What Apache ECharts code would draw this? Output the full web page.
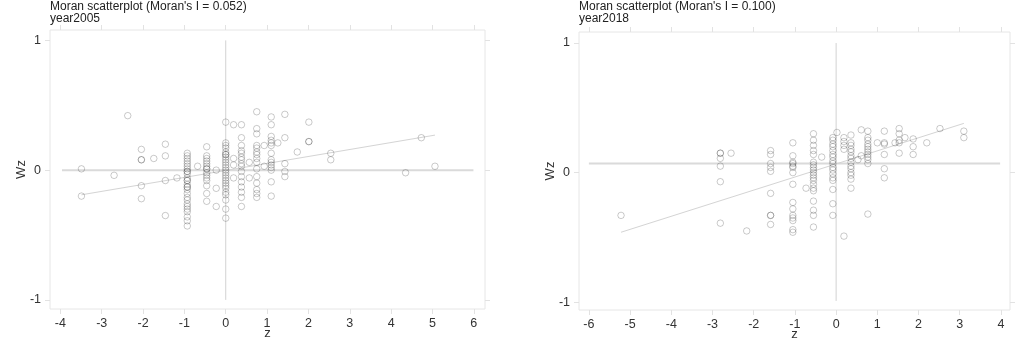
<!DOCTYPE html>
<html>
<head>
<meta charset="utf-8">
<script src="https://cdn.jsdelivr.net/npm/echarts@6/dist/echarts.min.js"></script>
<style>
  html, body { margin: 0; padding: 0; background: #fff; }
  #chart { width: 1017px; height: 338px; }
</style>
</head>
<body>
<div id="chart"></div>
<script>
// points, grouped by z column: [z, [Wz, Wz, ...]]
var pts2005 = [
  [-3.49, [0.01, -0.2]],
  [-2.7, [-0.04]],
  [-2.37, [0.42]],
  [-2.04, [0.16, 0.08, 0.08, -0.12, -0.22]],
  [-1.74, [0.09]],
  [-1.46, [0.2, 0.11, -0.08, -0.35]],
  [-1.18, [-0.06]],
  [-0.93, [0.13, 0.11, 0.09, 0.07, 0.05, 0.03, 0.01, -0.01, -0.01, -0.03, -0.06, -0.08, -0.08, -0.11, -0.13, -0.13, -0.15, -0.18, -0.21, -0.23, -0.26, -0.28, -0.3, -0.32, -0.36, -0.39, -0.43]],
  [-0.68, [0.03]],
  [-0.46, [0.18, 0.11, 0.09, 0.07, 0.05, 0.03, 0.01, 0.01, -0.02, -0.04, -0.06, -0.08, -0.12, -0.18, -0.24]],
  [-0.23, [0, -0.14, -0.28]],
  [0, [0.37, 0.21, 0.19, 0.17, 0.14, 0.12, 0.12, 0.1, 0.08, 0.06, 0.04, 0.02, 0, -0.02, -0.04, -0.06, -0.08, -0.1, -0.12, -0.14, -0.17, -0.19, -0.23, -0.3, -0.37]],
  [0.19, [0.35, 0.09, 0.04, -0.06]],
  [0.38, [0.35, 0.25, 0.19, 0.15, 0.13, 0.1, 0.08, 0.05, 0.03, -0.01, -0.05, -0.09, -0.13, -0.17, -0.21, -0.28]],
  [0.57, [0.06, -0.06]],
  [0.75, [0.45, 0.32, 0.28, 0.19, 0.17, 0.14, 0.12, 0.09, 0.06, 0.01, -0.05, -0.1, -0.15, -0.18, -0.21]],
  [0.93, [0.19, 0.03]],
  [1.1, [0.41, 0.35, 0.26, 0.23, 0.21, 0.19, 0.13, 0.08, 0.06, 0.04, 0.02, 0, -0.09, -0.2]],
  [1.26, [0.21]],
  [1.43, [0.43, 0.25, 0.05, -0.01, -0.05]],
  [1.73, [0.14]],
  [2.01, [0.37, 0.22, 0.22]],
  [2.54, [0.13, 0.08]],
  [4.35, [-0.02]],
  [4.73, [0.25]],
  [5.06, [0.03]]
];
var pts2018 = [
  [-5.22, [-0.33]],
  [-2.81, [0.15, 0.15, 0.11, 0.05, -0.07, -0.39]],
  [-2.55, [0.15]],
  [-2.17, [-0.45]],
  [-1.59, [0.17, 0.14, 0.07, 0.04, 0.01, -0.16, -0.33, -0.33, -0.4]],
  [-1.05, [0.23, 0.13, 0.08, 0.07, 0.05, 0.04, 0, -0.09, -0.23, -0.28, -0.33, -0.35, -0.37, -0.44, -0.46]],
  [-0.73, [-0.12]],
  [-0.55, [0.3, 0.25, 0.21, 0.17, 0.14, 0.08, 0.06, 0.04, 0.02, 0, -0.02, -0.04, -0.06, -0.09, -0.12, -0.14, -0.22, -0.29, -0.33, -0.42]],
  [-0.35, [0.12]],
  [-0.08, [0.27, 0.25, 0.22, 0.2, 0.17, 0.14, 0.12, 0.09, 0.07, 0.04, 0.02, -0.01, -0.04, -0.06, -0.13, -0.24, -0.33]],
  [0.02, [0.31]],
  [0.19, [0.27, 0.24, 0.21, 0.18, -0.49]],
  [0.36, [0.29, 0.23, 0.21, 0.18, 0.16, 0.13, 0.11, 0.08, 0.05, 0.03, 0, -0.02, -0.05, -0.12]],
  [0.53, [0.1]],
  [0.61, [0.33, 0.13]],
  [0.77, [0.32, 0.27, 0.25, 0.22, 0.2, 0.18, 0.16, 0.14, 0.12, 0.1, 0.07, -0.32]],
  [1.0, [0.23]],
  [1.17, [0.32, 0.23, 0.22, 0.14, 0.03, -0.04]],
  [1.43, [0.23]],
  [1.53, [0.34, 0.3, 0.25, 0.23, 0.15]],
  [1.67, [0.27]],
  [1.87, [0.26, 0.2, 0.14]],
  [2.2, [0.23]],
  [2.52, [0.34]],
  [3.1, [0.32, 0.27]]
];
// fitted lines and mean lines (end points)
var fit2005 = [[-3.49, -0.19], [5.06, 0.27]];
var fit2018 = [[-5.22, -0.46], [3.1, 0.38]];
var hline2005 = [[-3.96, 0], [5.99, 0]];
var vline2005 = [[0, 1.0], [0, -1.0]];
var hline2018 = [[-6.0, 0.07], [3.98, 0.07]];
var vline2018 = [[0, 1.0], [0, -0.99]];
var xTicks2005 = [-4, -3, -2, -1, 0, 1, 2, 3, 4, 5, 6];
var xTicks2018 = [-6, -5, -4, -3, -2, -1, 0, 1, 2, 3, 4];
var yTicks = [-1, 0, 1];
var titles = ["Moran scatterplot (Moran's I = 0.052)\nyear2005", "Moran scatterplot (Moran's I = 0.100)\nyear2018"];

function flat(groups) {
  var out = [];
  groups.forEach(function (g) {
    g[1].forEach(function (v) { out.push([g[0], v]); });
  });
  return out;
}

var font = "'Liberation Sans', Arial, sans-serif";
var tickStyle = { color: '#e2e2e2', width: 1 };
var noLine = { show: false, onZero: false };

function xAxes(gi, min, max, ticks) {
  return [{
    gridIndex: gi, type: 'value', min: min, max: max, position: 'bottom',
    name: 'z', nameLocation: 'middle', nameGap: 18, nameMoveOverlap: false,
    nameTextStyle: { color: '#333', fontSize: 13, fontFamily: font },
    axisLine: noLine,
    splitLine: { show: false },
    axisTick: { show: true, customValues: ticks, length: 5, lineStyle: tickStyle },
    axisLabel: { customValues: ticks, color: '#333', fontSize: 12.5, fontFamily: font, margin: 8 }
  }, {
    gridIndex: gi, type: 'value', min: min, max: max, position: 'top',
    axisLine: noLine,
    splitLine: { show: false },
    axisTick: { show: true, customValues: ticks, length: 5, lineStyle: tickStyle },
    axisLabel: { show: false }
  }];
}

function yAxes(gi, min, max) {
  return [{
    gridIndex: gi, type: 'value', min: min, max: max, position: 'left',
    name: 'Wz', nameLocation: 'middle', nameGap: 22, nameMoveOverlap: false,
    nameTextStyle: { color: '#333', fontSize: 13, fontFamily: font },
    axisLine: noLine,
    splitLine: { show: false },
    axisTick: { show: true, customValues: yTicks, length: 5, lineStyle: tickStyle },
    axisLabel: { customValues: yTicks, color: '#333', fontSize: 12.5, fontFamily: font, margin: 9 }
  }, {
    gridIndex: gi, type: 'value', min: min, max: max, position: 'right',
    axisLine: noLine,
    splitLine: { show: false },
    axisTick: { show: true, customValues: yTicks, length: 5, lineStyle: tickStyle },
    axisLabel: { show: false }
  }];
}

function seriesFor(xi, yi, pts, fit, hl, vl) {
  var lineBase = { type: 'line', xAxisIndex: xi, yAxisIndex: yi, showSymbol: false, silent: true, animation: false };
  return [
    Object.assign({}, lineBase, { data: hl, lineStyle: { color: '#dadada', width: 2 }, z: 1 }),
    Object.assign({}, lineBase, { data: vl, lineStyle: { color: '#d2d2d2', width: 1 }, z: 1 }),
    Object.assign({}, lineBase, { data: fit, lineStyle: { color: '#d4d4d4', width: 1 }, z: 2 }),
    {
      type: 'scatter', xAxisIndex: xi, yAxisIndex: yi, data: flat(pts),
      symbol: 'circle', symbolSize: 6.5, animation: false, z: 3,
      itemStyle: { color: 'rgba(0,0,0,0)', borderColor: 'rgba(0,0,0,0.26)', borderWidth: 1 }
    }
  ];
}

var titleStyle = { fontSize: 12, fontWeight: 'normal', color: '#222', fontFamily: font, lineHeight: 12.5 };
var chart = echarts.init(document.getElementById('chart'));
chart.setOption({
  backgroundColor: '#fff',
  title: [
    { text: titles[0], left: 50, top: 0, padding: 0, textStyle: titleStyle },
    { text: titles[1], left: 579, top: 0, padding: 0, textStyle: titleStyle }
  ],
  grid: [
    { left: 50, width: 435, top: 30, height: 279, show: true, borderColor: '#e6e6e6', borderWidth: 1, backgroundColor: '#fff', outerBoundsMode: 'none' },
    { left: 579, width: 431, top: 32, height: 278, show: true, borderColor: '#e6e6e6', borderWidth: 1, backgroundColor: '#fff', outerBoundsMode: 'none' }
  ],
  xAxis: xAxes(0, -4.25, 6.27, xTicks2005).concat(xAxes(1, -6.24, 4.22, xTicks2018)),
  yAxis: yAxes(0, -1.07, 1.08).concat(yAxes(1, -1.06, 1.085)),
  series: seriesFor(0, 0, pts2005, fit2005, hline2005, vline2005)
    .concat(seriesFor(2, 2, pts2018, fit2018, hline2018, vline2018))
});
</script>
</body>
</html>
